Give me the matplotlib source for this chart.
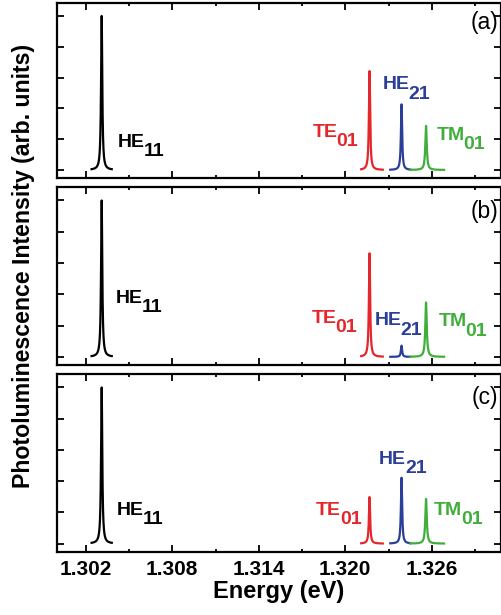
import numpy as np
import matplotlib
matplotlib.use('Agg')
import matplotlib.pyplot as plt

plt.rcParams['font.family'] = ['Liberation Sans', 'DejaVu Sans']
plt.rcParams['font.weight'] = 'bold'

# peak data, one list entry per panel (a), (b), (c)
modes = ['HE', 'TE', 'HE', 'TM']
subs = ['11', '01', '21', '01']
colors = ['black', '#e5262b', '#2b3f99', '#3fae3a']
centers = [1.3031, 1.32168, 1.3239, 1.3256]
win_lo = [1.3024, 1.3211, 1.32312, 1.3245]
win_hi = [1.3038, 1.3226, 1.3245, 1.32685]
widths = [0.00005, 0.00005, 0.00005, 0.00006]
heights_a = [5.0, 3.21, 2.13, 1.43]
heights_b = [5.0, 3.31, 0.36, 1.74]
heights_c = [5.0, 1.49, 2.11, 1.43]
heights = [heights_a, heights_b, heights_c]
panel_tags = ['(a)', '(b)', '(c)']

# label anchors (left edge, baseline of main text) per panel
lab_x_a = [1.30424, 1.31773, 1.32258, 1.32634]
lab_y_a = [0.76, 1.08, 2.62, 0.97]
lab_x_b = [1.30405, 1.31766, 1.32204, 1.32645]
lab_y_b = [1.72, 1.09, 1.01, 0.98]
lab_x_c = [1.30412, 1.31796, 1.32235, 1.32615]
lab_y_c = [0.92, 0.92, 2.56, 0.92]
lab_x = [lab_x_a, lab_x_b, lab_x_c]
lab_y = [lab_y_a, lab_y_b, lab_y_c]
tag_y = [0.886, 0.865, 0.868]

xticks = [1.302, 1.308, 1.314, 1.320, 1.326]
xlim = (1.300, 1.3308)
ylim = (-0.26, 5.42)

fig = plt.figure(figsize=(5.02, 6.15), dpi=100)
boxes = [[0.1135, 0.7106, 0.8845, 0.2846],
         [0.1135, 0.4065, 0.8845, 0.2890],
         [0.1135, 0.1029, 0.8845, 0.2885]]


def lorentz(x, x0, g, h):
    return h * g**2 / ((x - x0)**2 + g**2)


for p in range(3):
    ax = fig.add_axes(boxes[p])
    for i in range(4):
        x = np.linspace(win_lo[i], win_hi[i], 600)
        y = lorentz(x, centers[i], widths[i], heights[p][i])
        ax.plot(x, y, color=colors[i], lw=1.6, zorder=2 + i)
        t = ax.text(lab_x[p][i], lab_y[p][i], modes[i], color=colors[i],
                    fontsize=14, fontweight='bold', ha='left', va='baseline')
        ax.annotate(subs[i], xy=(1, 0), xycoords=t, xytext=(-0.8, -6.7),
                    textcoords='offset points', color=colors[i],
                    fontsize=14, fontweight='bold', ha='left', va='bottom')
    ax.text(0.993, tag_y[p], panel_tags[p], transform=ax.transAxes,
            fontsize=16.5, fontweight='normal', ha='right', va='center')
    ax.set_xlim(*xlim)
    ax.set_ylim(*ylim)
    ax.set_xticks(xticks)
    ax.set_xticks(np.arange(1.305, 1.331, 0.006), minor=True)
    ax.set_yticks(range(6))
    ax.set_yticklabels([])
    ax.tick_params(which='both', direction='in', top=True, right=True, width=1.3)
    ax.tick_params(which='major', length=5)
    ax.tick_params(which='minor', length=2.5)
    for s in ax.spines.values():
        s.set_linewidth(1.6)
    if p < 2:
        ax.set_xticklabels([])
    else:
        ax.set_xticklabels(['%.3f' % v for v in xticks], fontsize=15,
                           fontweight='bold')
        ax.tick_params(axis='x', pad=6)
        ax.set_xlabel('Energy (eV)', fontsize=17, fontweight='bold', labelpad=1)

fig.text(0.046, 0.568, 'Photoluminescence Intensity (arb. units)', rotation=90,
         ha='center', va='center', fontsize=16.7, fontweight='bold')

fig.savefig('out.png', dpi=100)
